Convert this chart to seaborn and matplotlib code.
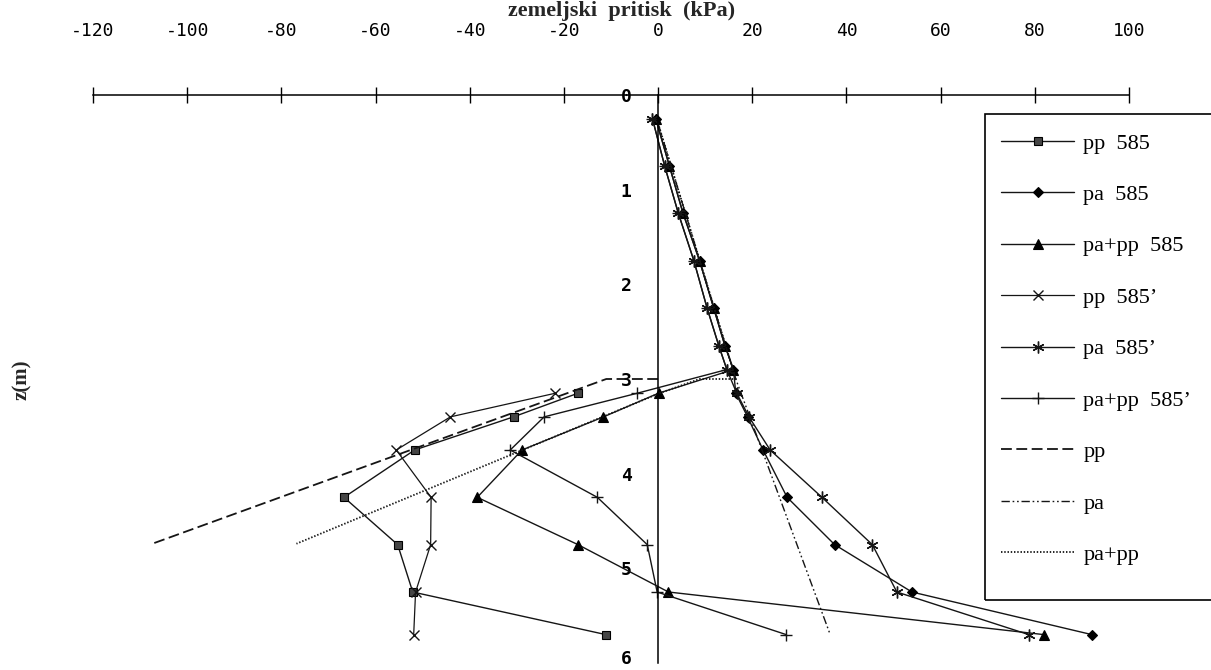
import matplotlib
matplotlib.use("Agg")
import matplotlib.pyplot as plt
from matplotlib.patches import Rectangle
from matplotlib.transforms import ScaledTranslation
import seaborn as sns

# depths (m)
z_top = [0.25, 0.75, 1.25, 1.75, 2.25, 2.65, 2.9]
z_low = [3.15, 3.4, 3.75, 4.25, 4.75, 5.25, 5.7]

# measured earth pressures (kPa), section 585
pp_585 = [-17.0, -30.7, -51.7, -66.7, -55.3, -52.1, -11.1]
pa_585_top = [-0.5, 2.4, 5.3, 8.8, 11.8, 14.2, 16.0]
pa_585_low = [16.5, 19.0, 22.3, 27.4, 37.5, 53.9, 92.1]
papp_585_low = [0.1, -11.6, -28.9, -38.4, -17.0, 2.2, 81.9]

# measured earth pressures (kPa), section 585'
pp_585b = [-21.8, -44.1, -55.6, -48.2, -48.3, -51.5, -51.9]
pa_585b_top = [-1.2, 1.4, 4.3, 7.6, 10.4, 12.9, 14.6]
pa_585b_low = [16.7, 19.3, 23.8, 34.8, 45.5, 50.7, 78.7]
papp_585b_low = [-4.4, -24.2, -31.4, -12.9, -2.3, -0.2, 27.2]

# analytical pressure lines
pp_th_x = [0.0, -11.0, -107.4]
pp_th_z = [3.0, 3.0, 4.74]
pa_th_x = [0.0, 16.5, 36.4]
pa_th_z = [0.3, 3.0, 5.68]
papp_th_x = [0.0, 16.5, 8.8, 0.3, -76.8]
papp_th_z = [0.3, 3.0, 3.0, 3.15, 4.74]

x_ticks = [-120, -100, -80, -60, -40, -20, 0, 20, 40, 60, 80, 100]
z_ticks = [0, 1, 2, 3, 4, 5, 6]

sns.set_theme(style="white")
plt.rcParams["font.family"] = ["DejaVu Sans Mono", "DejaVu Sans"]
plt.rcParams["axes.unicode_minus"] = False

W, H = 1211, 670
fig = plt.figure(figsize=(W / 100, H / 100), dpi=100)
ax = fig.add_axes([93 / W, 1 - 663 / H, (1129 - 93) / W, (663 - 95) / H])
ax.set_facecolor("white")

ink = "#151515"
series = [
    (pp_585, z_low, "pp  585",
     dict(marker="s", ms=5.5, mfc="#454545", mec="black", mew=0.8, lw=1.0, ls="-")),
    (pa_585_top + pa_585_low, z_top + z_low, "pa  585",
     dict(marker="D", ms=5.2, mfc="black", mec="black", mew=0.8, lw=1.0, ls="-")),
    (pa_585_top + papp_585_low, z_top + z_low, "pa+pp  585",
     dict(marker="^", ms=6.8, mfc="black", mec="black", mew=0.8, lw=1.0, ls="-")),
    (pp_585b, z_low, "pp  585\u2019",
     dict(marker="x", ms=7, mfc=ink, mec=ink, mew=1.0, lw=0.9, ls="-")),
    (pa_585b_top + pa_585b_low, z_top + z_low, "pa  585\u2019",
     dict(marker=(6, 2, 0), ms=8.5, mfc=ink, mec=ink, mew=1.0, lw=1.0, ls="-")),
    (pa_585b_top + papp_585b_low, z_top + z_low, "pa+pp  585\u2019",
     dict(marker="+", ms=8, mfc=ink, mec=ink, mew=1.0, lw=1.0, ls="-")),
    (pp_th_x, pp_th_z, "pp", dict(lw=1.3, ls=(0, (6, 2.5)))),
    (pa_th_x, pa_th_z, "pa", dict(lw=1.0, ls=(0, (6, 2, 1.2, 2, 1.2, 2)))),
    (papp_th_x, papp_th_z, "pa+pp", dict(lw=1.3, ls=(0, (0.8, 1.0)))),
]

for xs, zs, name, style in series:
    sns.lineplot(x=xs, y=zs, sort=False, estimator=None, color=ink,
                 label=name, ax=ax, **style)

ax.set_xlim(-120, 100)
ax.set_ylim(6, 0)
ax.set_xticks(x_ticks)
ax.set_yticks(z_ticks)
ax.set_xlabel("")
ax.set_ylabel("")

# axes crossing at the origin: pressure axis on top, depth axis at zero
ax.xaxis.set_ticks_position("top")
ax.spines["left"].set_position(("data", 0))
ax.spines["right"].set_visible(False)
ax.spines["bottom"].set_visible(False)
for s in ("left", "top"):
    ax.spines[s].set_color("black")
    ax.spines[s].set_linewidth(1.1)

ax.tick_params(axis="x", direction="inout", length=11, width=1.0, pad=34,
               labelsize=13, colors="black")
ax.tick_params(axis="y", direction="inout", length=12, width=1.0, pad=13,
               labelsize=13, colors="black")
for lab in ax.get_yticklabels():
    lab.set_fontweight("bold")
# keep the bottom depth label inside the canvas
last = ax.get_yticklabels()[-1]
last.set_transform(last.get_transform() + ScaledTranslation(0, 4 / 72, fig.dpi_scale_trans))

serif = ["Liberation Serif", "DejaVu Serif"]
fig.text(622 / W, 1 - 11 / H, "zemeljski  pritisk  (kPa)", ha="center", va="center",
         fontsize=16, fontweight="bold", family=serif)
fig.text(22 / W, 1 - 380 / H, "z(m)", ha="center", va="center", rotation=90,
         fontsize=15, fontweight="bold", family=serif)

leg = ax.legend(loc="upper left", bbox_to_anchor=(1001 / W, 1 - 133 / H),
                bbox_transform=fig.transFigure, frameon=False, borderpad=0,
                borderaxespad=0, handlelength=3.3, handletextpad=0.4,
                labelspacing=1.39, numpoints=1,
                prop={"family": serif, "size": 16})
for t in leg.get_texts():
    t.set_color("black")
fig.add_artist(Rectangle((985 / W, 1 - 600 / H), (1225 - 985) / W, (600 - 114) / H,
                         transform=fig.transFigure, fill=False, ec="black",
                         lw=1.2, clip_on=False))

fig.savefig("out.png", dpi=100, facecolor="white")
